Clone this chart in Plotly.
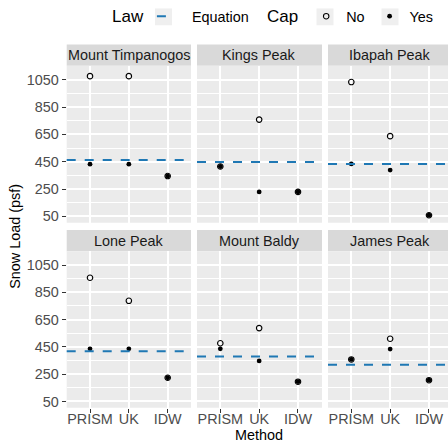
import plotly.graph_objects as go

# Snow load estimates per peak, by interpolation method, with and without the cap
peaks = ["Mount Timpanogos", "Kings Peak", "Ibapah Peak",
         "Lone Peak", "Mount Baldy", "James Peak"]
methods = ["PRISM", "UK", "IDW"]
load_no_cap = [
    [1076, 1076, 345],
    [415, 758, 229],
    [1033, 637, 58],
    [957, 788, 224],
    [477, 588, 195],
    [358, 510, 206],
]
load_cap = [
    [432, 432, 345],
    [415, 229, 229],
    [434, 389, 58],
    [436, 436, 224],
    [436, 347, 195],
    [358, 434, 206],
]
equation_load = [463, 447, 434, 419, 380, 320]
y_ticks = [50, 250, 450, 650, 850, 1050]
y_minor = [150, 350, 550, 750, 950, 1150]

W, H = 448, 442
FONT = "Liberation Sans"
FS = 14.4
BLUE = "#1F78B4"

def px_x(p):
    return p / W

def px_y(p):
    return 1 - p / H

col_dom = [(66.7, 191.0), (197.0, 322.0), (328.0, 448.0)]
row_dom = [(63.5, 222.3), (251.0, 409.5)]
strip_h = 21.5
px_per_unit = (191.0 - 66.7) / 3.2
y_range = [3, 1152]

fig = go.Figure()

for i, peak in enumerate(peaks):
    r, c = divmod(i, 3)
    n = i + 1
    xa = "x" if n == 1 else f"x{n}"
    ya = "y" if n == 1 else f"y{n}"
    x0p, x1p = col_dom[c]
    y0p, y1p = row_dom[r]
    x_hi = -0.6 + (x1p - x0p) / px_per_unit
    xidx = list(range(len(methods)))

    fig.add_trace(go.Scatter(
        x=xidx, y=load_no_cap[i], xaxis=xa, yaxis=ya, mode="markers",
        marker=dict(symbol="circle-open", size=5.5, color="black",
                    line=dict(width=1.1, color="black")),
        name="No", legend="legend2", legendgroup="No", showlegend=(i == 0),
        cliponaxis=False,
    ))
    fig.add_trace(go.Scatter(
        x=xidx, y=load_cap[i], xaxis=xa, yaxis=ya, mode="markers",
        marker=dict(symbol="circle", size=4.8, color="black"),
        name="Yes", legend="legend2", legendgroup="Yes", showlegend=(i == 0),
        cliponaxis=False,
    ))

    # code equation value as a horizontal reference line across the panel
    fig.add_shape(type="line", xref=f"{xa} domain", yref=ya,
                  x0=0, x1=1, y0=equation_load[i], y1=equation_load[i],
                  line=dict(color=BLUE, width=2, dash="9px,9px"), layer="above")

    # facet strip
    fig.add_shape(type="rect", xref=f"{xa} domain", yref=f"{ya} domain",
                  x0=0, x1=1, y0=1, y1=1 + strip_h / (y1p - y0p),
                  fillcolor="#D9D9D9", line=dict(width=0), layer="below")
    fig.add_annotation(text=peak, xref=xa, yref=f"{ya} domain", x=1,
                       y=1 + strip_h / 2 / (y1p - y0p), showarrow=False,
                       font=dict(family=FONT, size=FS, color="#1A1A1A"),
                       xanchor="center", yanchor="middle")

    bottom = r == 1
    left = c == 0
    fig.layout[("xaxis" if n == 1 else f"xaxis{n}")] = dict(
        domain=[px_x(x0p), px_x(x1p)], anchor=ya, range=[-0.6, x_hi],
        tickvals=xidx, ticktext=methods, showticklabels=bottom,
        ticks="outside" if bottom else "", ticklen=4, tickwidth=1.1,
        tickcolor="#333333", showgrid=True, gridcolor="white", gridwidth=1.5,
        zeroline=False, showline=False, ticklabelstandoff=-6,
        tickfont=dict(family=FONT, size=FS, color="#4D4D4D"),
    )
    fig.layout[("yaxis" if n == 1 else f"yaxis{n}")] = dict(
        domain=[px_y(y1p), px_y(y0p)], anchor=xa, range=y_range,
        tickvals=y_ticks, showticklabels=left,
        ticks="outside" if left else "", ticklen=4, tickwidth=1.1,
        tickcolor="#333333", showgrid=True, gridcolor="white", gridwidth=1.5,
        minor=dict(tickvals=y_minor, showgrid=True, gridcolor="white",
                   gridwidth=0.8),
        zeroline=False, showline=False,
        tickfont=dict(family=FONT, size=FS, color="#4D4D4D"),
    )

# legend-only entry for the dashed equation line
fig.add_trace(go.Scatter(
    x=[None], y=[None], mode="lines", name="Equation",
    line=dict(color=BLUE, width=2, dash="9px,40px"), legend="legend",
))

# panel backgrounds
for c in range(3):
    for r in range(2):
        fig.add_shape(type="rect", xref="paper", yref="paper",
                      x0=px_x(col_dom[c][0]), x1=px_x(col_dom[c][1]),
                      y0=px_y(row_dom[r][1]), y1=px_y(row_dom[r][0]),
                      fillcolor="#EBEBEB", line=dict(width=0), layer="below")

fig.add_annotation(text="Snow Load (psf)", xref="paper", yref="paper",
                   x=px_x(15), y=px_y(236.5), textangle=-90, showarrow=False,
                   font=dict(family=FONT, size=FS, color="black"),
                   xanchor="center", yanchor="middle")
fig.add_annotation(text="Method", xref="paper", yref="paper",
                   x=px_x(259), y=px_y(436.5), showarrow=False,
                   font=dict(family=FONT, size=FS, color="black"),
                   xanchor="center", yanchor="middle")

# grey key backgrounds behind the legend symbols
LEG1_X, LEG2_X = 110, 265
key_boxes = [LEG1_X + 45, LEG2_X + 60 - 8.5, LEG2_X + 125 - 8.5]
for kx in key_boxes:
    fig.add_shape(type="rect", xref="paper", yref="paper",
                  x0=px_x(kx), x1=px_x(kx + 17), y0=px_y(22.5), y1=px_y(5.5),
                  fillcolor="#EFEFEF", line=dict(width=0), layer="below")

legend_common = dict(
    orientation="h", yanchor="middle", y=px_y(14), xanchor="left",
    bgcolor="rgba(0,0,0,0)", font=dict(family=FONT, size=FS, color="black"),
    itemwidth=30, tracegroupgap=0, itemclick=False, itemdoubleclick=False,
)
fig.update_layout(
    width=W, height=H, margin=dict(l=0, r=0, t=0, b=0),
    paper_bgcolor="white", plot_bgcolor="rgba(0,0,0,0)",
    showlegend=True,
    legend=dict(title=dict(text="Law", side="left"), x=px_x(LEG1_X), **legend_common),
    legend2=dict(title=dict(text="Cap", side="left"), x=px_x(LEG2_X), **legend_common),
)

fig.write_html("out.html")
